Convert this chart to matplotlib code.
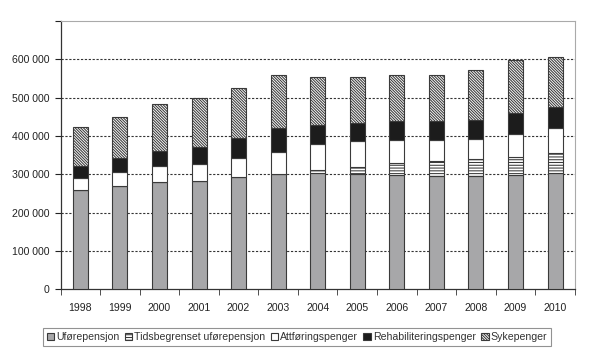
import matplotlib
matplotlib.use("Agg")
import matplotlib.pyplot as plt
import numpy as np
from matplotlib.ticker import FuncFormatter

plt.rcParams['font.family'] = ['Liberation Sans', 'DejaVu Sans']
plt.rcParams['hatch.linewidth'] = 0.75

years = ['1998', '1999', '2000', '2001', '2002', '2003', '2004',
         '2005', '2006', '2007', '2008', '2009', '2010']
ufore = [259000, 269000, 280000, 284000, 293000, 302000, 304000,
         302000, 299000, 297000, 297000, 299000, 303000]
tidsbegrenset = [0, 0, 0, 0, 0, 0, 7000, 17000, 30000, 38000, 44000, 47000, 53000]
attforing = [30500, 38000, 43000, 43000, 51000, 56000, 67500,
             68000, 62000, 56000, 52000, 59000, 66000]
rehab = [33500, 35000, 39000, 45000, 52000, 62000, 49500,
         48000, 48000, 49000, 48000, 55000, 54000]
syke = [100000, 108000, 122000, 127000, 129000, 138000, 125000,
        118000, 120000, 119000, 132000, 138000, 131000]

series = [
    ('Uførepensjon', ufore, '#a7a7a9', None),
    ('Tidsbegrenset uførepensjon', tidsbegrenset, 'white', '-' * 6),
    ('Attføringspenger', attforing, 'white', None),
    ('Rehabiliteringspenger', rehab, '#1c1c1c', None),
    ('Sykepenger', syke, 'white', '\\' * 12),
]

fig = plt.figure(figsize=(6, 3.5), dpi=100)
ax = fig.add_axes([0.101, 0.173, 0.857, 0.767])

x = np.arange(len(years))
bottom = np.zeros(len(years))
handles = []
for name, vals, color, hatch in series:
    vals = np.array(vals, dtype=float)
    b = ax.bar(x, vals, width=0.38, bottom=bottom, color=color,
               edgecolor='#3a3a3a', linewidth=0.8, hatch=hatch, label=name, zorder=3)
    handles.append(b)
    bottom += vals

ax.set_xlim(-0.5, len(years) - 0.5)
ax.set_ylim(0, 700000)
ax.set_yticks(np.arange(0, 700001, 100000))


def fmt(v, p):
    if v >= 700000:
        return ''
    return f"{int(v):,}".replace(',', ' ')


ax.yaxis.set_major_formatter(FuncFormatter(fmt))
for yv in range(100000, 700000, 100000):
    ax.axhline(yv, linestyle=(0, (2, 1.5)), color='#333333', linewidth=0.8, zorder=0)

ax.set_xticks(x)
ax.set_xticklabels(years)
ax.set_xticks(np.arange(-0.5, len(years)), minor=True)
ax.tick_params(axis='x', which='major', length=0, pad=10, labelsize=7.6, colors='#222222')
ax.tick_params(axis='x', which='minor', length=4, direction='out', color='#333333')
ax.tick_params(axis='y', length=4, direction='out', labelsize=7.6, colors='#222222', pad=4)

for s in ['top', 'right']:
    ax.spines[s].set_color('#aaaaaa')
    ax.spines[s].set_linewidth(0.8)
for s in ['left', 'bottom']:
    ax.spines[s].set_color('#333333')
    ax.spines[s].set_linewidth(0.9)

leg = fig.legend(handles=handles, loc='center', bbox_to_anchor=(297 / 600, 1 - 337 / 350),
                 ncol=5, fontsize=7.6, frameon=True, fancybox=False, edgecolor='#777777',
                 handlelength=0.7, handleheight=0.7, handletextpad=0.2, columnspacing=0.5,
                 borderpad=0.35, labelcolor='#333333')
leg.get_frame().set_linewidth(0.8)

fig.savefig('out.png', dpi=100)
